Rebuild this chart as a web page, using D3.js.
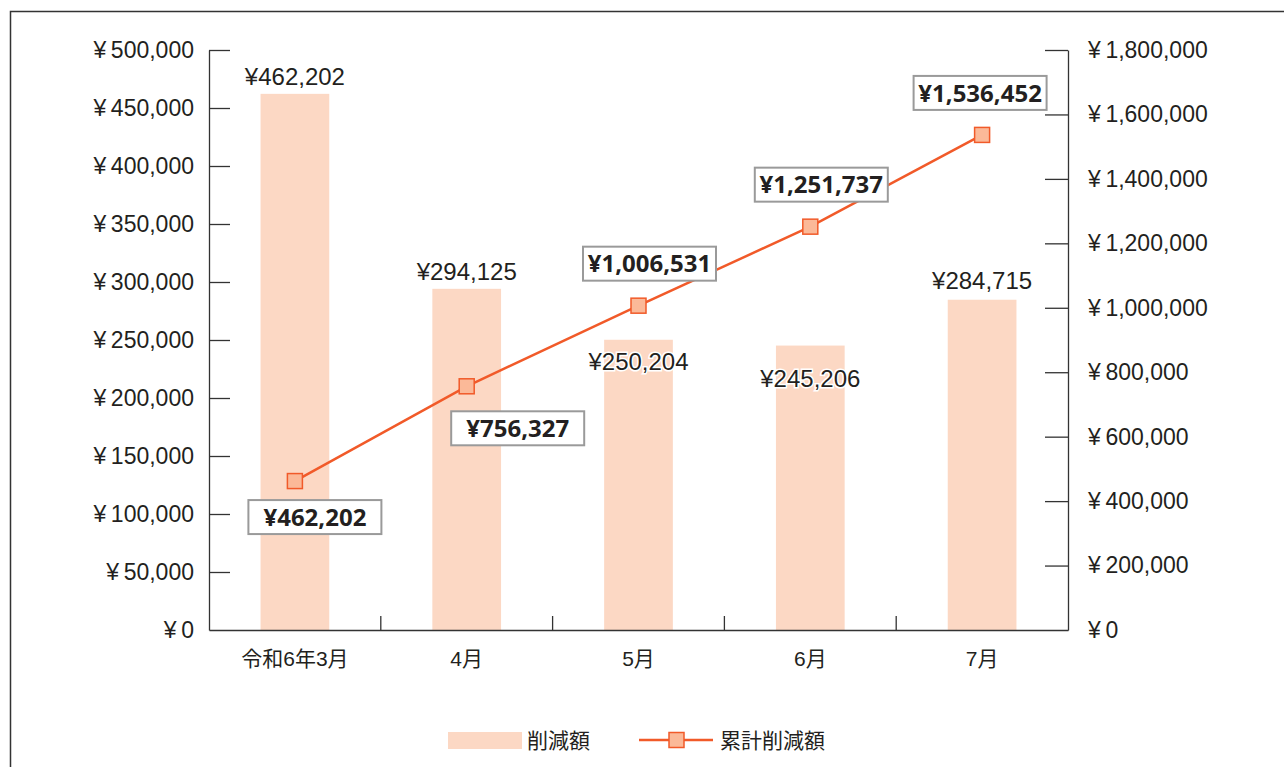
<!DOCTYPE html>
<html lang="ja">
<head>
<meta charset="UTF-8">
<script src="https://d3js.org/d3.v7.min.js"></script>
<title>削減額</title>
<style>
  body { margin: 0; background: #fff; }
  text { font-family: "Liberation Sans", "Noto Sans CJK JP", sans-serif; fill: #231f20; }
</style>
</head>
<body>
<script>
// data
var months = ["令和6年3月", "4月", "5月", "6月", "7月"];
var reduction = [462202, 294125, 250204, 245206, 284715];
var cumulative = [462202, 756327, 1006531, 1251737, 1536452];
var leftTicks = [0, 50000, 100000, 150000, 200000, 250000, 300000, 350000, 400000, 450000, 500000];
var rightTicks = [0, 200000, 400000, 600000, 800000, 1000000, 1200000, 1400000, 1600000, 1800000];
var seriesNames = ["削減額", "累計削減額"];

// label placement (hand tuned like the original)
var barLabelDy = [-9, -9, 30, 41, -11];
var boxOffset = [[20, 36], [51, 42], [11, -42], [11, -42], [-2, -42]];

var W = 1284, H = 767;
var m = {left: 209, right: 1068, top: 50, bottom: 630};
var barColor = "#fcd8c4", lineColor = "#f15a29", markerFill = "#fbb998";

var svg = d3.select("body").append("svg").attr("width", W).attr("height", H);

// outer frame
svg.append("rect").attr("x", 10.5).attr("y", 11.5).attr("width", 1300).attr("height", 800)
   .attr("fill", "none").attr("stroke", "#333").attr("stroke-width", 1.5);

var x = d3.scaleBand().domain(months).range([m.left, m.right]).paddingInner(0).paddingOuter(0);
var yL = d3.scaleLinear().domain([0, 500000]).range([m.bottom, m.top]);
var yR = d3.scaleLinear().domain([0, 1800000]).range([m.bottom, m.top]);
var yen = d3.format(",");
var barW = x.bandwidth() * 0.4;

// bars
svg.selectAll("rect.bar").data(reduction).join("rect").attr("class", "bar")
   .attr("x", (d, i) => x(months[i]) + x.bandwidth() / 2 - barW / 2)
   .attr("y", d => yL(d))
   .attr("width", barW)
   .attr("height", d => yL(0) - yL(d))
   .attr("fill", barColor);

// axes
var axL = svg.append("g").attr("transform", "translate(" + m.left + ",0)")
   .call(d3.axisLeft(yL).tickValues(leftTicks).tickSizeInner(-21).tickSizeOuter(0).tickPadding(15)
         .tickFormat(d => "¥\u2009" + yen(d)));
var axR = svg.append("g").attr("transform", "translate(" + m.right + ",0)")
   .call(d3.axisRight(yR).tickValues(rightTicks).tickSizeInner(-23).tickSizeOuter(0).tickPadding(20)
         .tickFormat(d => "¥\u2009" + yen(d)));
var axB = svg.append("g").attr("transform", "translate(0," + m.bottom + ")")
   .call(d3.axisBottom(x).tickSize(0).tickPadding(21));

[axL, axR].forEach(function(g) {
  g.selectAll("text").attr("font-size", 23);
});
axB.selectAll("text").attr("font-size", 21);
[axL, axR, axB].forEach(function(g) {
  g.selectAll("path, line").attr("stroke", "#333").attr("stroke-width", 1.3);
  g.selectAll("text").style("fill", "#231f20")
   .attr("font-family", "'Liberation Sans', 'Noto Sans CJK JP', sans-serif");
});
axL.select(".tick:first-of-type line").remove();
axR.select(".tick:first-of-type line").remove();

// category separators on the x axis
svg.selectAll("line.sep").data(months.slice(1)).join("line").attr("class", "sep")
   .attr("x1", d => x(d)).attr("x2", d => x(d))
   .attr("y1", m.bottom).attr("y2", m.bottom - 14)
   .attr("stroke", "#333").attr("stroke-width", 1.3);

// bar value labels
svg.selectAll("text.barlab").data(reduction).join("text").attr("class", "barlab")
   .attr("x", (d, i) => x(months[i]) + x.bandwidth() / 2)
   .attr("y", (d, i) => yL(d) + barLabelDy[i])
   .attr("text-anchor", "middle").attr("font-size", 24)
   .attr("stroke", "#fff").attr("stroke-width", 3).attr("paint-order", "stroke")
   .text(d => "¥" + yen(d));

// cumulative line
var cx = (d, i) => x(months[i]) + x.bandwidth() / 2;
svg.append("path").datum(cumulative)
   .attr("d", d3.line().x(cx).y(d => yR(d)))
   .attr("fill", "none").attr("stroke", lineColor).attr("stroke-width", 2.5);
svg.selectAll("rect.mk").data(cumulative).join("rect").attr("class", "mk")
   .attr("x", (d, i) => cx(d, i) - 7.5).attr("y", d => yR(d) - 7.5)
   .attr("width", 15).attr("height", 15)
   .attr("fill", markerFill).attr("stroke", lineColor).attr("stroke-width", 1.5);

// cumulative labels in boxes
var box = svg.selectAll("g.box").data(cumulative).join("g").attr("class", "box")
   .attr("transform", (d, i) => "translate(" + (cx(d, i) + boxOffset[i][0]) + "," + (yR(d) + boxOffset[i][1]) + ")");
box.append("rect").attr("x", -66.5).attr("y", -17).attr("width", 133).attr("height", 34)
   .attr("fill", "#fff").attr("stroke", "#9a9a9a").attr("stroke-width", 2);
box.append("text").attr("text-anchor", "middle").attr("dy", "0.36em")
   .attr("font-size", 24).attr("font-weight", "bold")
   .style("font-family", "'Noto Sans', 'Noto Sans CJK JP', sans-serif")
   .text(d => "¥" + yen(d));

// legend
var lg = svg.append("g");
lg.append("rect").attr("x", 448).attr("y", 732).attr("width", 74).attr("height", 17).attr("fill", barColor);
lg.append("text").attr("x", 527).attr("y", 741).attr("dy", "0.35em").attr("font-size", 21).text(seriesNames[0]);
lg.append("line").attr("x1", 639).attr("x2", 713).attr("y1", 740).attr("y2", 740)
  .attr("stroke", lineColor).attr("stroke-width", 2.5);
lg.append("rect").attr("x", 669).attr("y", 732.5).attr("width", 15).attr("height", 15)
  .attr("fill", markerFill).attr("stroke", lineColor).attr("stroke-width", 1.5);
lg.append("text").attr("x", 720).attr("y", 741).attr("dy", "0.35em").attr("font-size", 21).text(seriesNames[1]);
</script>
</body>
</html>
